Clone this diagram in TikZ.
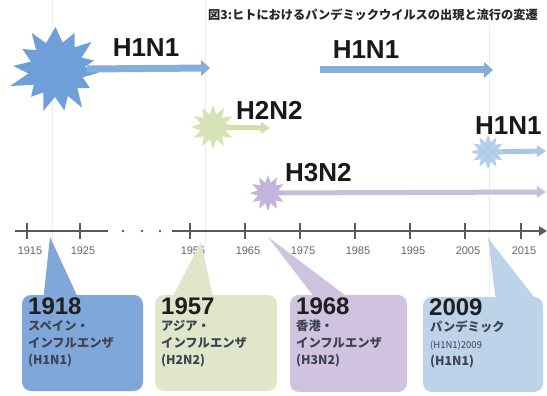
\documentclass[tikz,border=0pt]{standalone}
\usepackage{fontspec}
\setmainfont{Liberation Sans}
\newfontfamily\jp{Noto Sans CJK JP}
\usetikzlibrary{shapes.geometric,arrows.meta,backgrounds}
\definecolor{boxA}{HTML}{7FA7D9}
\definecolor{boxB}{HTML}{DFE6C9}
\definecolor{boxC}{HTML}{CFC3E0}
\definecolor{boxD}{HTML}{BDD3EA}
\definecolor{starA}{HTML}{6E9FD9}
\definecolor{arrA}{HTML}{86AEDD}
\definecolor{starB}{HTML}{D8E3B5}
\definecolor{arrB}{HTML}{D2DDAE}
\definecolor{starC}{HTML}{C2B4DD}
\definecolor{arrC}{HTML}{C8BFDD}
\definecolor{starD}{HTML}{B4CEEA}
\definecolor{arrD}{HTML}{A9C6E6}
\definecolor{axisc}{HTML}{5A5A5A}
\definecolor{bodyc}{HTML}{3C4350}
\begin{document}
\begin{tikzpicture}[x=1pt,y=-1pt,
  virus/.style={font=\fontsize{26}{26}\selectfont\bfseries, text=black!90, inner sep=0pt},
  yearlbl/.style={font=\fontsize{11}{11}\selectfont, text=black!60, inner sep=0pt},
  burst/.style={star, star point ratio=1.7, inner sep=0pt, draw=none},
  flow/.style={line width=#1, -{Triangle[length=9pt,width=#1*2.2]}},
  guide/.style={draw=black!8, line width=0.8pt},
  callout/.style={rounded corners=9pt},
  bigyear/.style={anchor=west, inner sep=0pt, font=\fontsize{24}{24}\selectfont\bfseries, text=black!88},
  bodytxt/.style={anchor=north west, inner sep=0pt, align=left, text=bodyc,
     font=\jp\bfseries\fontsize{12.3}{17}\selectfont},
  tick/.style={draw=axisc, line width=2pt}
]
\useasboundingbox (0,0) rectangle (547,396);

% stars
\coordinate (sA) at (57,69);
\begin{scope}[shift={(sA)}]
\fill[starA] (5:42) -- (18:27) -- (30:38) -- (43:28) -- (57:46) -- (68:29) -- (80:42)
  -- (94:28) -- (108:44) -- (120:27) -- (133:38) -- (146:28) -- (160:50) -- (171:29)
  -- (184:44) -- (196:27) -- (210:40) -- (222:28) -- (235:44) -- (247:28) -- (268:42)
  -- (282:27) -- (296:40) -- (309:28) -- (322:44) -- (335:27) -- (347:38) -- (356:28) -- cycle;
\end{scope}
\node[burst, star points=12, minimum size=44pt, fill=starB] (sB) at (213,127) {};
\node[burst, star points=12, minimum size=36pt, fill=starC] (sC) at (268,193) {};
\node[burst, star points=12, minimum size=34pt, fill=starD] (sD) at (488,152) {};

\coordinate (eA) at (210,68);
\coordinate (fA0) at (320,70);
\coordinate (fA1) at (493,70);
\coordinate (eB) at (270,128);
\coordinate (eC) at (546,192);
\coordinate (eD) at (546,151);

\begin{scope}[on background layer]
  \fill[white] (0,0) rectangle (547,396);
  \draw[guide] (52,0) -- (52,300);
  \draw[guide] (205,0) -- (205,245);
  \draw[guide] (489,25) -- (489,300);
\end{scope}
\draw[flow=7pt, draw=arrA, fill=arrA] (sA) ++(30,0) -- (eA);
\draw[flow=7pt, draw=arrA, fill=arrA] (fA0) -- (fA1);
\begin{scope}[on background layer]
  \draw[flow=5pt, draw=arrB, fill=arrB] (sB.center) -- (eB);
  \draw[flow=5pt, draw=arrC, fill=arrC] (sC.center) -- (eC);
  \draw[flow=5pt, draw=arrD, fill=arrD] (sD.center) -- (eD);
\end{scope}

% title
\node[anchor=west, inner sep=0pt, font=\jp\bfseries\fontsize{12.2}{12.2}\selectfont, text=black!85] (title) at (208,15) {図3:ヒトにおけるパンデミックウイルスの出現と流行の変遷};

% virus labels
\node[virus] (l1) at (146,48) {H1N1};
\node[virus] (l2) at (366,50) {H1N1};
\node[virus, anchor=west] (l3) at (236,110) {H2N2};
\node[virus, anchor=west] (l4) at (285,173) {H3N2};
\node[virus, anchor=west] (l5) at (475,126) {H1N1};

% axis
\coordinate (ax0) at (15,231);
\coordinate (ax1) at (108,231);
\coordinate (ax2) at (172,231);
\coordinate (ax3) at (547,231);
\draw[draw=axisc, line width=2.2pt] (ax0) -- (ax1);
\draw[draw=axisc, line width=2.2pt, -{Triangle[length=8pt,width=9pt]}] (ax2) -- (ax3);
\foreach \x in {123,142,160} \fill[axisc] (\x,231) circle (1.4pt);
\foreach \x/\y in {27/1915,80/1925,190/1955,245/1965,300/1975,355/1985,410/1995,465/2005,521/2015}{
  \draw[tick] (\x,223) -- (\x,239);
  \node[yearlbl] (y\y) at (\x+3,251) {\y};
}

% callouts
\fill[boxA] (50,237) -- (43,302) -- (80,302) -- cycle;
\fill[boxA, callout] (22,295) rectangle (143,391);
\fill[boxB] (201,242) -- (170,302) -- (214,302) -- cycle;
\fill[boxB, callout] (155,295) rectangle (277,391);
\fill[boxC] (268,237) -- (318,302) -- (354,302) -- cycle;
\fill[boxC, callout] (290,295) rectangle (407,392);
\fill[boxD] (488,238) -- (496,302) -- (538,302) -- cycle;
\fill[boxD, callout] (423,297) rectangle (543,392);

\node[bigyear] (b1y) at (28,306) {1918};
\node[bodytxt] (b1t) at (28,320) {スペイン・\\インフルエンザ\\(H1N1)};
\node[bigyear] (b2y) at (161,306) {1957};
\node[bodytxt] (b2t) at (161,320) {アジア・\\インフルエンザ\\(H2N2)};
\node[bigyear] (b3y) at (296,306) {1968};
\node[bodytxt] (b3t) at (296,320) {香港・\\インフルエンザ\\(H3N2)};
\node[bigyear] (b4y) at (429,307) {2009};
\node[bodytxt] (b4t) at (430,320) {パンデミック\\{\mdseries\fontsize{9.5}{17}\selectfont (H1N1)2009}\\(H1N1)};
\end{tikzpicture}
\end{document}
